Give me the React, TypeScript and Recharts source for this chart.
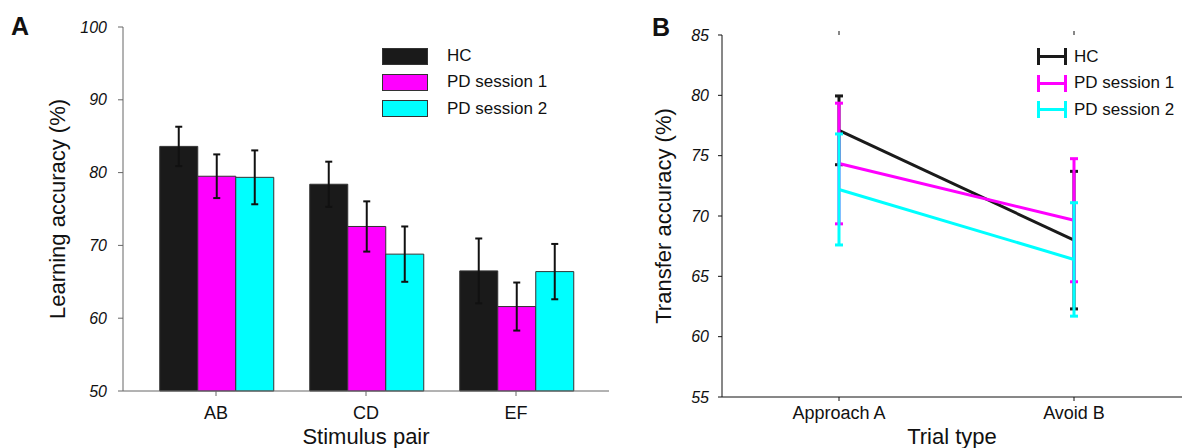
import React from 'react';
import { BarChart, Bar, LineChart, Line, XAxis, YAxis, ErrorBar, Legend } from 'recharts';

// ---------- Panel A data ----------
const pairs = ['AB', 'CD', 'EF'];
const hcLearn = [83.6, 78.4, 66.5];
const hcLearnErr = [2.7, 3.1, 4.45];
const pd1Learn = [79.5, 72.6, 61.6];
const pd1LearnErr = [3.0, 3.45, 3.3];
const pd2Learn = [79.35, 68.8, 66.4];
const pd2LearnErr = [3.7, 3.8, 3.8];
const ticksA = [50, 60, 70, 80, 90, 100];

// ---------- Panel B data ----------
const trials = ['Approach A', 'Avoid B'];
const hcTransfer = [77.1, 68.0];
const hcTransferErr = [2.85, 5.7];
const pd1Transfer = [74.35, 69.65];
const pd1TransferErr = [5.0, 5.1];
const pd2Transfer = [72.2, 66.4];
const pd2TransferErr = [4.6, 4.7];
const ticksB = [55, 60, 65, 70, 75, 80, 85];

const seriesNames = ['HC', 'PD session 1', 'PD session 2'];
const seriesColors = ['#1a1a1a', '#ff00ff', '#00ffff'];

const dataA = pairs.map((p, i) => ({
  pair: p,
  hc: hcLearn[i], hcErr: hcLearnErr[i],
  pd1: pd1Learn[i], pd1Err: pd1LearnErr[i],
  pd2: pd2Learn[i], pd2Err: pd2LearnErr[i],
}));

const dataB = trials.map((t, i) => ({
  trial: t,
  hc: hcTransfer[i], hcErr: hcTransferErr[i],
  pd1: pd1Transfer[i], pd1Err: pd1TransferErr[i],
  pd2: pd2Transfer[i], pd2Err: pd2TransferErr[i],
}));

const FONT = '"Liberation Sans", Arial, Helvetica, sans-serif';

const LegendA = () => (
  <div style={{ fontFamily: FONT, fontSize: 17, color: '#111' }}>
    {seriesNames.map((n, i) => (
      <div key={n} style={{ display: 'flex', alignItems: 'center', height: 26.3 }}>
        <div style={{ width: 44, height: 15, background: seriesColors[i], border: '1px solid #333' }} />
        <span style={{ marginLeft: 19, whiteSpace: 'nowrap' }}>{n}</span>
      </div>
    ))}
  </div>
);

const LegendB = () => (
  <div style={{ fontFamily: FONT, fontSize: 17, color: '#111' }}>
    {seriesNames.map((n, i) => (
      <div key={n} style={{ display: 'flex', alignItems: 'center', height: 26.5 }}>
        <svg width={30} height={17} style={{ display: 'block' }}>
          <line x1={1.5} y1={0} x2={1.5} y2={17} stroke={seriesColors[i]} strokeWidth={3} />
          <line x1={28.5} y1={0} x2={28.5} y2={17} stroke={seriesColors[i]} strokeWidth={3} />
          <line x1={1.5} y1={8.5} x2={28.5} y2={8.5} stroke={seriesColors[i]} strokeWidth={3} />
        </svg>
        <span style={{ marginLeft: 7, whiteSpace: 'nowrap' }}>{n}</span>
      </div>
    ))}
  </div>
);

export default function App() {
  return (
    <div style={{ position: 'absolute', left: 0, top: 0, width: 1182, height: 448, background: '#fff', fontFamily: FONT, overflow: 'hidden' }}>
      <div style={{ position: 'absolute', left: 11, top: 12, fontSize: 25, fontWeight: 'bold', color: '#111' }}>A</div>
      <div style={{ position: 'absolute', left: 652, top: 13, fontSize: 25, fontWeight: 'bold', color: '#111' }}>B</div>

      <div style={{ position: 'absolute', left: 0, top: 0 }}>
        <BarChart width={620} height={448} data={dataA} margin={{ top: 27, right: 11, bottom: 0, left: 0 }} barGap={0} barCategoryGap="12.5%">
          <XAxis
            dataKey="pair"
            height={57}
            padding={{ left: 18, right: 18 }}
            stroke="#666"
            tickSize={5}
            tickMargin={10}
            fontSize={18}
            tick={{ fontSize: 18, fill: '#111' }}
            label={{ value: 'Stimulus pair', position: 'insideBottom', offset: 4, fontSize: 22, fill: '#111' }}
          />
          <YAxis
            width={123}
            domain={[50, 100]}
            ticks={ticksA}
            interval={0}
            stroke="#666"
            tickSize={5}
            tickMargin={11}
            fontSize={16}
            tick={{ fontSize: 16, fontStyle: 'italic', fill: '#111' }}
            label={{ value: 'Learning accuracy (%)', angle: -90, position: 'center', dx: -4, fontSize: 22, fill: '#111' }}
          />
          <Legend layout="vertical" align="center" verticalAlign="middle" wrapperStyle={{ left: 382, top: 43, width: 'auto' }} content={<LegendA />} />
          <Bar dataKey="hc" name={seriesNames[0]} fill={seriesColors[0]} stroke="#333" strokeWidth={1} isAnimationActive={false}>
            <ErrorBar dataKey="hcErr" width={3.5} strokeWidth={2} stroke="#111" />
          </Bar>
          <Bar dataKey="pd1" name={seriesNames[1]} fill={seriesColors[1]} stroke="#333" strokeWidth={1} isAnimationActive={false}>
            <ErrorBar dataKey="pd1Err" width={3.5} strokeWidth={2} stroke="#111" />
          </Bar>
          <Bar dataKey="pd2" name={seriesNames[2]} fill={seriesColors[2]} stroke="#333" strokeWidth={1} isAnimationActive={false}>
            <ErrorBar dataKey="pd2Err" width={3.5} strokeWidth={2} stroke="#111" />
          </Bar>
        </BarChart>
      </div>

      <div style={{ position: 'absolute', left: 620, top: 0 }}>
        <LineChart width={562} height={448} data={dataB} margin={{ top: 30, right: 0, bottom: 0, left: 0 }}>
          <XAxis
            xAxisId="top"
            orientation="top"
            dataKey="trial"
            height={5}
            axisLine={false}
            tickFormatter={() => ''}
            tickSize={4}
            stroke="#111"
            padding={{ left: 117, right: 108 }}
          />
          <XAxis
            dataKey="trial"
            height={51}
            padding={{ left: 117, right: 108 }}
            stroke="#111"
            tickSize={4}
            tickMargin={5}
            fontSize={18}
            tick={{ fontSize: 18, fill: '#111' }}
            label={{ value: 'Trial type', position: 'insideBottom', offset: 4, fontSize: 22, fill: '#111' }}
          />
          <YAxis
            width={102}
            domain={[55, 85]}
            ticks={ticksB}
            interval={0}
            stroke="#111"
            tickSize={4}
            tickMargin={9}
            fontSize={16}
            tick={{ fontSize: 16, fontStyle: 'italic', fill: '#111' }}
            label={{ value: 'Transfer accuracy (%)', angle: -90, position: 'center', dx: -8, fontSize: 22, fill: '#111' }}
          />
          <Legend layout="vertical" align="center" verticalAlign="middle" wrapperStyle={{ left: 417, top: 43.5, width: 'auto' }} content={<LegendB />} />
          <Line dataKey="hc" name={seriesNames[0]} stroke={seriesColors[0]} strokeWidth={3} dot={false} activeDot={false} isAnimationActive={false}>
            <ErrorBar dataKey="hcErr" width={4} strokeWidth={3} stroke={seriesColors[0]} />
          </Line>
          <Line dataKey="pd1" name={seriesNames[1]} stroke={seriesColors[1]} strokeWidth={3} dot={false} activeDot={false} isAnimationActive={false}>
            <ErrorBar dataKey="pd1Err" width={4} strokeWidth={3} stroke={seriesColors[1]} />
          </Line>
          <Line dataKey="pd2" name={seriesNames[2]} stroke={seriesColors[2]} strokeWidth={3} dot={false} activeDot={false} isAnimationActive={false}>
            <ErrorBar dataKey="pd2Err" width={4} strokeWidth={3} stroke={seriesColors[2]} />
          </Line>
        </LineChart>
      </div>
    </div>
  );
}
